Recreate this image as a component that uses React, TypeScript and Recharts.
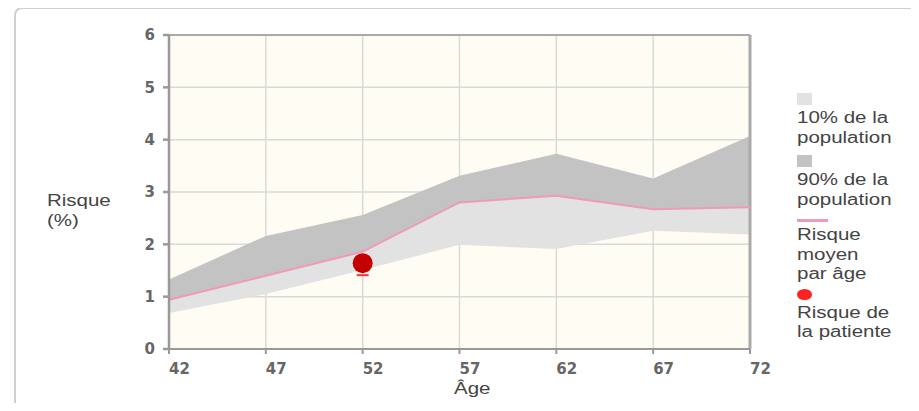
import {
  Area,
  CartesianGrid,
  ComposedChart,
  Line,
  ReferenceLine,
  Scatter,
  XAxis,
  YAxis,
} from "recharts";

const ages = [42, 47, 52, 57, 62, 67, 72];
const p10 = [0.69, 1.05, 1.51, 1.99, 1.91, 2.26, 2.19];
const mean = [0.94, 1.4, 1.86, 2.8, 2.93, 2.67, 2.71];
const p90 = [1.33, 2.16, 2.56, 3.31, 3.73, 3.26, 4.07];
const yTicks = [0, 1, 2, 3, 4, 5, 6];
const patient = [{ age: 52, risk: 1.64 }];

const rows = ages.map((age, i) => ({
  age,
  low: [p10[i], mean[i]],
  high: [mean[i], p90[i]],
  mean: mean[i],
}));

// the reference text looks stretched sideways, so widen it a bit
const legendText = {
  fontFamily: "'Liberation Sans', Arial, sans-serif",
  fontSize: 16,
  color: "#444",
  lineHeight: "19.5px",
  transform: "scaleX(1.28)",
  transformOrigin: "left top",
};

const tickStyle = { fill: "#666", fontSize: 15, fontWeight: "bold", fontFamily: "'DejaVu Sans', sans-serif" };

function PatientDot(props: any) {
  const { cx, cy } = props;
  return (
    <g>
      <line x1={cx - 6} x2={cx + 6} y1={cy + 12} y2={cy + 12} stroke="#ff3030" strokeWidth={2} />
      <circle cx={cx} cy={cy} r={10} fill="#c40000" />
    </g>
  );
}

export default function App() {
  return (
    <div style={{ position: "relative", width: 919, height: 411, margin: -8, background: "#fff", overflow: "hidden" }}>
      <div
        style={{
          position: "absolute",
          left: 14,
          top: 7,
          width: 920,
          height: 420,
          borderLeft: "2px solid #d0d0d0",
          borderTop: "2px solid #d0d0d0",
          borderTopLeftRadius: 8,
        }}
      />
      <div style={{ position: "absolute", left: 0, top: 0 }}>
        <ComposedChart width={919} height={411} data={rows} margin={{ top: 35, right: 169, bottom: 32, left: 0 }}>
          <CartesianGrid fill="#fffcf3" stroke="#d9d9d9" strokeWidth={1.5} />
          <XAxis
            dataKey="age"
            type="number"
            domain={[42, 72]}
            ticks={ages}
            stroke="#999"
            strokeWidth={2}
            tickSize={5}
            tick={{ ...tickStyle, textAnchor: "start", dy: 7 }}
          />
          <YAxis
            type="number"
            domain={[0, 6]}
            ticks={yTicks}
            width={169}
            stroke="#999"
            strokeWidth={2.5}
            tickSize={6}
            tick={{ ...tickStyle, dx: -6 }}
          />
          <ReferenceLine y={6} stroke="#aaa" strokeWidth={2} />
          <ReferenceLine x={72} stroke="#aaa" strokeWidth={3} />
          <Area dataKey="low" type="linear" fill="#e2e2e2" fillOpacity={1} stroke="none" isAnimationActive={false} />
          <Area dataKey="high" type="linear" fill="#c3c3c3" fillOpacity={1} stroke="none" isAnimationActive={false} />
          <Line dataKey="mean" type="linear" stroke="#ee9ab8" strokeWidth={2} dot={false} isAnimationActive={false} />
          <Scatter data={patient} dataKey="risk" shape={<PatientDot />} isAnimationActive={false} />
        </ComposedChart>
      </div>
      <div style={{ ...legendText, position: "absolute", left: 47, top: 191 }}>
        Risque
        <br />
        (%)
      </div>
      <div style={{ ...legendText, position: "absolute", left: 454, top: 379 }}>Âge</div>
      <div style={{ position: "absolute", left: 797, top: 93 }}>
        <div style={{ width: 15, height: 12, background: "#e2e2e2" }} />
        <div style={{ ...legendText, marginTop: 3 }}>10% de la<br />population</div>
        <div style={{ width: 15, height: 12, background: "#c3c3c3", marginTop: 8 }} />
        <div style={{ ...legendText, marginTop: 3 }}>90% de la<br />population</div>
        <div style={{ width: 31, height: 3, background: "#ee9ab8", marginTop: 10 }} />
        <div style={{ ...legendText, marginTop: 3 }}>Risque<br />moyen<br />par âge</div>
        <div style={{ width: 15, height: 11, borderRadius: "50%", background: "#ff2222", marginTop: 5 }} />
        <div style={{ ...legendText, marginTop: 3 }}>Risque de<br />la patiente</div>
      </div>
    </div>
  );
}
